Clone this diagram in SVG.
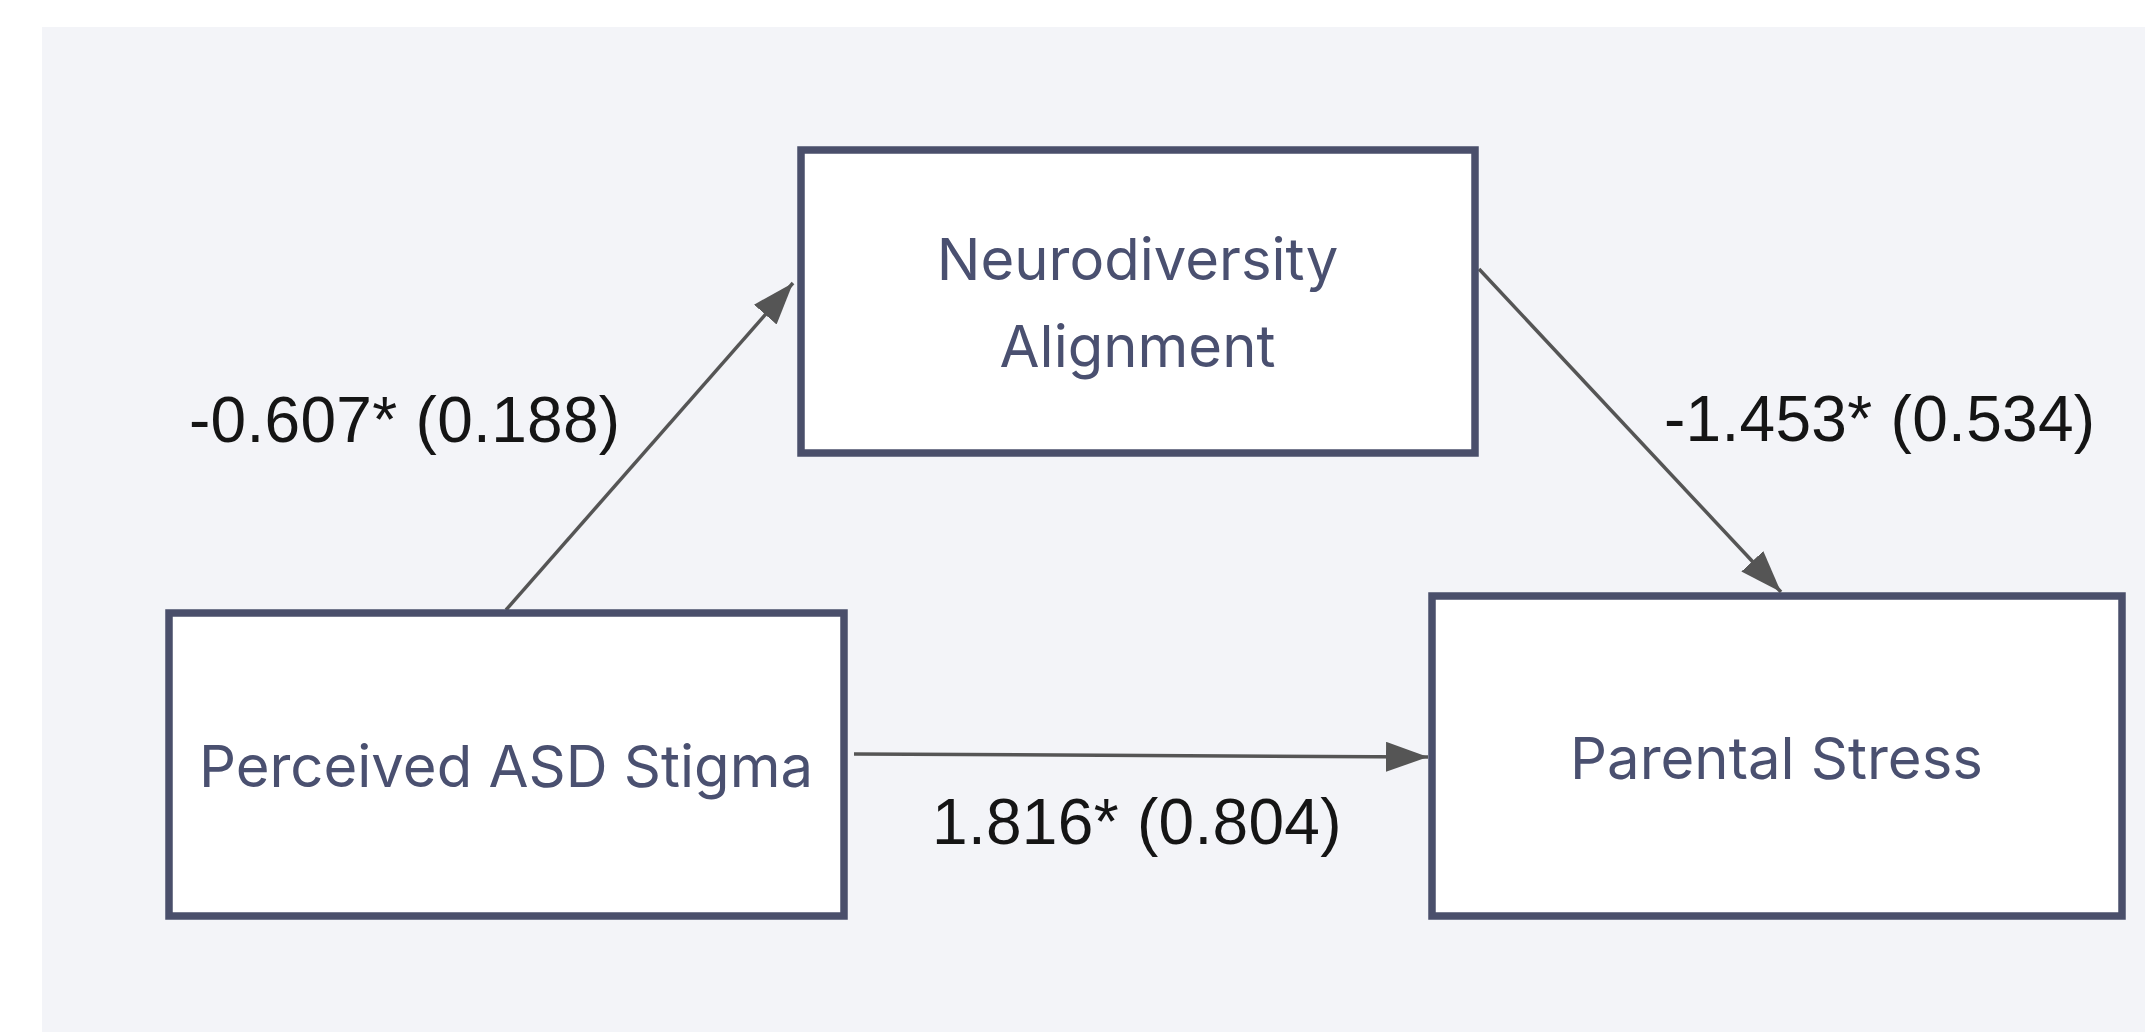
<svg xmlns="http://www.w3.org/2000/svg" width="2145" height="1032" viewBox="0 0 2145 1032">
  <style>
    .node rect { fill: #ffffff; stroke: #4a4f6b; stroke-width: 7.5; }
    .node text { font-family: Inter, "Noto Sans", "Liberation Sans", sans-serif; font-size: 58px; fill: #4a5070; text-anchor: middle; }
    .edge { stroke: #555555; stroke-width: 3.5; fill: none; }
    .lbl { font-family: "Liberation Sans", Arial, sans-serif; font-size: 64px; fill: #151515; letter-spacing: 0.3px; }
  </style>
  <defs>
    <marker id="arrow" markerUnits="userSpaceOnUse" markerWidth="42" markerHeight="30" refX="42" refY="15" orient="auto">
      <path d="M0,0 L42,15 L0,30 Z" fill="#555555"/>
    </marker>
  </defs>
  <rect x="0" y="0" width="2145" height="1032" fill="#ffffff"/>
  <rect x="42" y="27" width="2103" height="1005" fill="#f3f4f8"/>

  <g id="connectors">
    <line class="edge" x1="506" y1="610" x2="793" y2="283" marker-end="url(#arrow)"/>
    <line class="edge" x1="1479" y1="269" x2="1781" y2="592" marker-end="url(#arrow)"/>
    <line class="edge" x1="854" y1="754" x2="1428" y2="757" marker-end="url(#arrow)"/>
    <text class="lbl" x="189" y="442">-0.607* (0.188)</text>
    <text class="lbl" x="1664" y="441">-1.453* (0.534)</text>
    <text class="lbl" x="932" y="844">1.816* (0.804)</text>
  </g>

  <g id="node-neurodiversity" class="node">
    <rect x="801" y="150" width="674" height="303"/>
    <text x="1137.5" y="280">Neurodiversity</text>
    <text x="1137.5" y="367">Alignment</text>
  </g>
  <g id="node-stigma" class="node">
    <rect x="169" y="613" width="675" height="303"/>
    <text x="506" y="787">Perceived ASD Stigma</text>
  </g>
  <g id="node-stress" class="node">
    <rect x="1432" y="596" width="690" height="320"/>
    <text x="1776.5" y="779">Parental Stress</text>
  </g>
</svg>
